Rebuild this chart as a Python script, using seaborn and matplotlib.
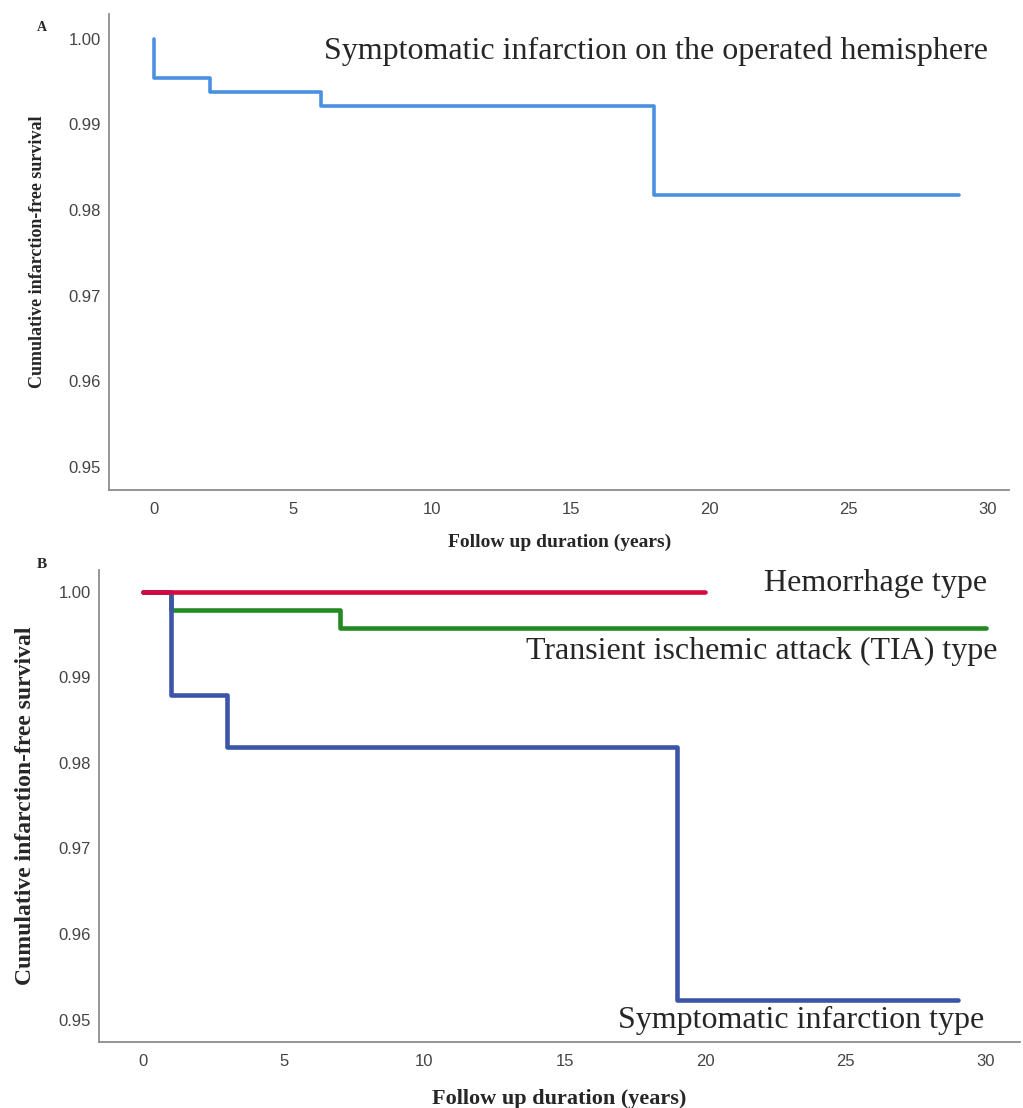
import numpy as np
import pandas as pd
import matplotlib
matplotlib.use("Agg")
import matplotlib.pyplot as plt
import seaborn as sns

# Panel A: infarction on the operated hemisphere
a_time = [0, 0, 2, 6, 18, 29]
a_surv = [1.0, 0.9954, 0.9938, 0.9922, 0.9817, 0.9817]

# Panel B: by onset type
hem_time = [0, 20]
hem_surv = [1.0, 1.0]
tia_time = [0, 1, 7, 30]
tia_surv = [1.0, 0.9979, 0.9957, 0.9957]
sym_time = [0, 1, 3, 19, 29]
sym_surv = [1.0, 0.9879, 0.9818, 0.9523, 0.9523]

groups = ["Transient ischemic attack (TIA) type", "Symptomatic infarction type", "Hemorrhage type"]
colors = {"Hemorrhage type": "#d6083f",
          "Transient ischemic attack (TIA) type": "#238a23",
          "Symptomatic infarction type": "#3c55a9"}

y_ticks = [0.95, 0.96, 0.97, 0.98, 0.99, 1.00]
x_ticks = [0, 5, 10, 15, 20, 25, 30]

sns.set_style("white")
serif = ["Liberation Serif", "DejaVu Serif"]
sans = ["Liberation Sans", "DejaVu Sans"]

fig = plt.figure(figsize=(10.23, 11.08), dpi=100)

def style_axes(ax, xlim, ylim, tick_size):
    ax.set_xlim(*xlim)
    ax.set_ylim(*ylim)
    ax.set_xticks(x_ticks)
    ax.set_yticks(y_ticks)
    ax.set_yticklabels([f"{v:.2f}" for v in y_ticks])
    for s in ["top", "right"]:
        ax.spines[s].set_visible(False)
    for s in ["left", "bottom"]:
        ax.spines[s].set_color("#8c8c8c")
        ax.spines[s].set_linewidth(1.3)
    ax.tick_params(length=0, labelsize=tick_size, colors="#444444")
    ax.tick_params(axis="x", pad=9)
    ax.tick_params(axis="y", pad=6)
    for lab in ax.get_xticklabels() + ax.get_yticklabels():
        lab.set_family(sans)

# ---- panel A
ax1 = fig.add_axes([0.1066, 0.5578, 0.880, 0.4296])
dfa = pd.DataFrame({"time": a_time, "surv": a_surv})
sns.lineplot(data=dfa, x="time", y="surv", ax=ax1, color="#4a90e2", lw=2.6,
             drawstyle="steps-post", estimator=None, sort=False)
style_axes(ax1, (-1.63, 30.8), (0.9473, 1.0029), 12)
ax1.set_xlabel("Follow up duration (years)", family=serif, fontweight="bold", fontsize=14, labelpad=12)
ax1.set_ylabel("Cumulative infarction-free survival", family=serif, fontweight="bold", fontsize=13, labelpad=16)
ax1.text(988, 1108 - 51, "Symptomatic infarction on the operated hemisphere", transform=None,
         ha="right", va="center", family=serif, fontsize=23)
fig.text(0.041, 0.975, "A", family=serif, fontweight="bold", fontsize=10, ha="center", va="center")

# ---- panel B
ax2 = fig.add_axes([0.0968, 0.0596, 0.900, 0.426])
rows = []
for g, t, s in [(groups[0], tia_time, tia_surv), (groups[1], sym_time, sym_surv), (groups[2], hem_time, hem_surv)]:
    for ti, si in zip(t, s):
        rows.append({"time": ti, "surv": si, "group": g})
dfb = pd.DataFrame(rows)
sns.lineplot(data=dfb, x="time", y="surv", hue="group", hue_order=groups, palette=colors, ax=ax2,
             lw=3.3, drawstyle="steps-post", estimator=None, sort=False, legend=False)
style_axes(ax2, (-1.57, 31.2), (0.94738, 1.00252), 12)
ax2.set_xlabel("Follow up duration (years)", family=serif, fontweight="bold", fontsize=16, labelpad=14)
ax2.set_ylabel("Cumulative infarction-free survival", family=serif, fontweight="bold", fontsize=17, labelpad=16)
ax2.text(987, 1108 - 584, "Hemorrhage type", transform=None, ha="right", va="center", family=serif, fontsize=23)
ax2.text(998, 1108 - 651, "Transient ischemic attack (TIA) type", transform=None, ha="right", va="center", family=serif, fontsize=23)
ax2.text(984, 1108 - 1020, "Symptomatic infarction type", transform=None, ha="right", va="center", family=serif, fontsize=23)
fig.text(0.041, 1 - 564 / 1108, "B", family=serif, fontweight="bold", fontsize=11, ha="center", va="center")

fig.savefig("out.png", dpi=100)
